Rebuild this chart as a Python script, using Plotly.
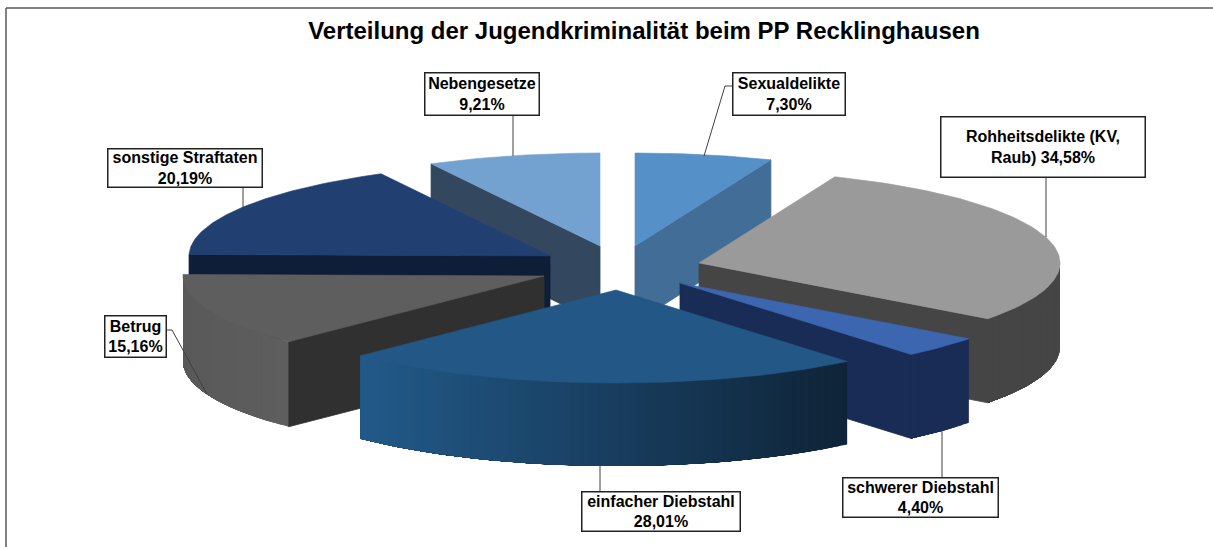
import numpy as np
import plotly.graph_objects as go

# ---- data (clockwise from 12 o'clock) ----
categories = ["Sexualdelikte", "Rohheitsdelikte (KV, Raub)", "schwerer Diebstahl",
              "einfacher Diebstahl", "Betrug", "sonstige Straftaten", "Nebengesetze"]
shares = [7.30, 34.58, 4.40, 28.01, 15.16, 20.19, 9.21]
share_labels = ["7,30%", "34,58%", "4,40%", "28,01%", "15,16%", "20,19%", "9,21%"]

# ---- style ----
RX, RY = 361, 93
apex = [(635, 246), (699, 263), (680, 283), (616, 290), (544, 276), (550, 256), (600, 246)]
depth = [77, 84, 84, 83, 85, 85, 77]
top_col = ["#5590c8", "#9a9a9a", "#3c66b0", "#235886", "#5e5e5e", "#223f72", "#74a2d0"]
face_col = ["#426d96", "#454545", "#192c55", "#1f4f7c", "#303030", "#0e1d38", "#33475f"]
rim_left = ["#426d96", "#454545", "#192c55", "#225a8a", "#595959", "#0e1d38", "#33475f"]
rim_right = ["#426d96", "#454545", "#192c55", "#0f2438", "#5e5e5e", "#0e1d38", "#33475f"]
draw_order = [6, 0, 5, 4, 1, 2, 3]
label_box = {0: (732, 72, 845, 115), 1: (940, 116, 1145, 177), 2: (842, 477, 998, 517),
             3: (581, 491, 740, 531), 4: (104, 315, 166, 357), 5: (107, 148, 262, 187),
             6: (424, 72, 539, 115)}
leaders = [[(733, 86), (725, 86), (704, 156)], [(1046, 177), (1046, 237)], [(942, 430), (942, 477)],
           [(600, 465), (600, 491)], [(166, 330), (172, 330), (207, 394)], [(243, 187), (243, 208)],
           [(513, 115), (513, 156)]]
label_text = {0: "Sexualdelikte<br>7,30%", 1: "Rohheitsdelikte (KV,<br>Raub) 34,58%",
              2: "schwerer Diebstahl<br>4,40%", 3: "einfacher Diebstahl<br>28,01%",
              4: "Betrug<br>15,16%", 5: "sonstige Straftaten<br>20,19%", 6: "Nebengesetze<br>9,21%"}

total = sum(shares)
edges = np.concatenate([[0], np.cumsum(shares)]) / total * 2 * np.pi


def pt(i, t, drop=0.0):
    return apex[i][0] + RX * np.sin(t), apex[i][1] - RY * np.cos(t) + drop


fig = go.Figure()


def poly(xs, ys, col, lw=0.6):
    fig.add_trace(go.Scatter(x=list(xs), y=list(ys), fill="toself", fillcolor=col, mode="lines",
                             line=dict(color=col, width=lw), hoverinfo="skip", showlegend=False))


def mix(a, b, f):
    ca = [int(a[k:k + 2], 16) for k in (1, 3, 5)]
    cb = [int(b[k:k + 2], 16) for k in (1, 3, 5)]
    return "#%02x%02x%02x" % tuple(round(u + (v - u) * f) for u, v in zip(ca, cb))


for i in draw_order:
    t0, t1 = edges[i], edges[i + 1]
    d = depth[i]
    ax, ay = apex[i]
    a, b = max(t0, np.pi / 2), min(t1, 3 * np.pi / 2)
    if b > a:
        ts = np.linspace(a, b, max(3, int((b - a) / np.radians(1.5)) + 1))
        x_lo, x_hi = min(pt(i, u)[0] for u in ts), max(pt(i, u)[0] for u in ts)
        # each strip runs on to the far end so later ones paint over it: no seams
        for u in ts[:-1]:
            tt = np.linspace(u, b, 40)
            xt, yt = pt(i, tt)
            f = (pt(i, u)[0] - x_lo) / max(x_hi - x_lo, 1)
            poly(list(xt) + list(xt[::-1]), list(yt) + list((yt + d)[::-1]), mix(rim_left[i], rim_right[i], f), lw=0)
    for t, vis in ((t0, np.sin(t0) < -1e-6), (t1, np.sin(t1) > 1e-6)):
        if vis:
            x, y = pt(i, t)
            poly([ax, x, x, ax, ax], [ay, y, y + d, ay + d, ay], face_col[i], lw=0.8)
    tt = np.linspace(t0, t1, 80)
    xt, yt = pt(i, tt)
    poly([ax] + list(xt) + [ax], [ay] + list(yt) + [ay], top_col[i])

for seg in leaders:
    fig.add_trace(go.Scatter(x=[p[0] for p in seg], y=[p[1] for p in seg], mode="lines",
                             line=dict(color="#404040", width=1), hoverinfo="skip", showlegend=False))

for i, (x0, y0, x1, y1) in label_box.items():
    fig.add_annotation(x=(x0 + x1) / 2, y=(y0 + y1) / 2, xref="x", yref="y", text=label_text[i], showarrow=False,
                       width=x1 - x0 - 2, height=y1 - y0 - 2, bgcolor="white", bordercolor="#222222", borderwidth=1.5,
                       borderpad=0, align="center", valign="middle",
                       font=dict(family="Liberation Sans", size=16, color="black", weight="bold"))

fig.add_shape(type="line", x0=6, y0=8, x1=1213, y1=8, line=dict(color="#595959", width=1.5))
fig.add_shape(type="line", x0=6, y0=8, x1=6, y1=547, line=dict(color="#595959", width=1.5))

fig.update_layout(
    width=1213, height=547, margin=dict(l=0, r=0, t=0, b=0), paper_bgcolor="white", plot_bgcolor="white",
    title=dict(text="<b>Verteilung der Jugendkriminalität beim PP Recklinghausen</b>", x=644 / 1213, xanchor="center",
               y=1 - 31 / 547, yanchor="middle", font=dict(family="Liberation Sans", size=24, color="black")),
    xaxis=dict(range=[0, 1213], visible=False, fixedrange=True),
    yaxis=dict(range=[547, 0], visible=False, fixedrange=True),
)
fig.write_html("out.html", config={"displayModeBar": False},
               post_script="document.body.style.margin='0';document.body.style.overflow='hidden';")
